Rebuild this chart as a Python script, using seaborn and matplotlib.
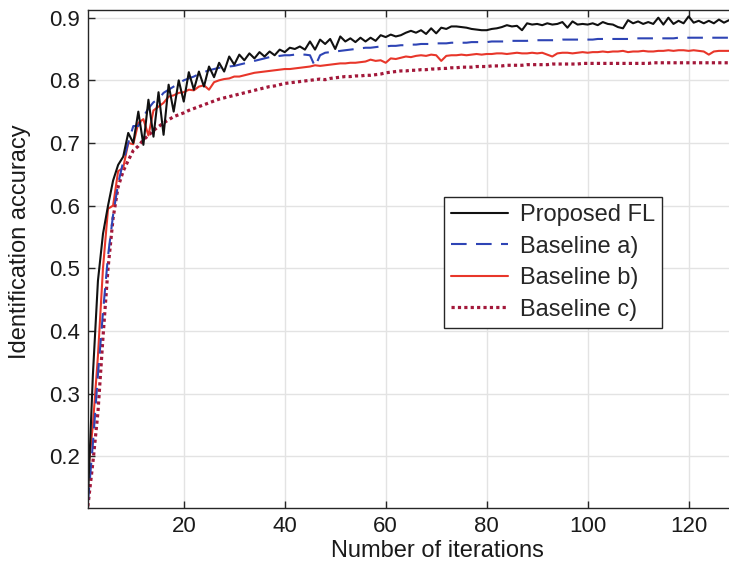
import numpy as np
import pandas as pd
import matplotlib
matplotlib.use("Agg")
import matplotlib.pyplot as plt
import seaborn as sns

iterations = list(range(1, 129))

proposed_fl = [
    0.130, 0.330, 0.480, 0.555, 0.600, 0.640, 0.665, 0.678, 0.716, 0.700,
    0.750, 0.697, 0.769, 0.710, 0.781, 0.713, 0.793, 0.750, 0.800, 0.766,
    0.813, 0.785, 0.814, 0.790, 0.822, 0.805, 0.828, 0.814, 0.838, 0.825,
    0.841, 0.832, 0.843, 0.835, 0.845, 0.838, 0.846, 0.840, 0.849, 0.845,
    0.852, 0.850, 0.854, 0.849, 0.862, 0.849, 0.865, 0.858, 0.866, 0.850,
    0.870, 0.862, 0.867, 0.861, 0.868, 0.862, 0.868, 0.863, 0.872, 0.869,
    0.873, 0.870, 0.872, 0.876, 0.879, 0.876, 0.880, 0.874, 0.883, 0.875,
    0.884, 0.882, 0.886, 0.886, 0.885, 0.884, 0.882, 0.881, 0.880, 0.880,
    0.882, 0.883, 0.885, 0.888, 0.886, 0.887, 0.880, 0.891, 0.889, 0.890,
    0.888, 0.891, 0.889, 0.890, 0.893, 0.884, 0.894, 0.889, 0.890, 0.889,
    0.891, 0.888, 0.893, 0.890, 0.889, 0.885, 0.883, 0.896, 0.891, 0.894,
    0.890, 0.893, 0.890, 0.900, 0.889, 0.900, 0.890, 0.895, 0.891, 0.902,
    0.892, 0.895, 0.891, 0.895, 0.891, 0.897, 0.892, 0.896,
]

baseline_a = [
    0.125, 0.220, 0.330, 0.430, 0.520, 0.585, 0.635, 0.670, 0.700, 0.727,
    0.727, 0.742, 0.755, 0.765, 0.770, 0.780, 0.785, 0.790, 0.795, 0.800,
    0.803, 0.806, 0.810, 0.813, 0.816, 0.818, 0.820, 0.821, 0.822, 0.823,
    0.825, 0.827, 0.829, 0.831, 0.833, 0.835, 0.837, 0.838, 0.839, 0.840,
    0.840, 0.841, 0.841, 0.841, 0.840, 0.822, 0.840, 0.844, 0.845, 0.846,
    0.847, 0.848, 0.849, 0.850, 0.851, 0.852, 0.852, 0.853, 0.854, 0.854,
    0.855, 0.855, 0.856, 0.856, 0.857, 0.857, 0.858, 0.858, 0.858, 0.859,
    0.859, 0.859, 0.860, 0.860, 0.860, 0.860, 0.861, 0.861, 0.861, 0.861,
    0.862, 0.862, 0.862, 0.862, 0.863, 0.863, 0.863, 0.863, 0.864, 0.864,
    0.864, 0.864, 0.864, 0.864, 0.865, 0.865, 0.865, 0.865, 0.865, 0.865,
    0.865, 0.866, 0.866, 0.866, 0.866, 0.866, 0.866, 0.866, 0.867, 0.867,
    0.867, 0.867, 0.867, 0.867, 0.867, 0.867, 0.867, 0.868, 0.868, 0.868,
    0.868, 0.868, 0.868, 0.868, 0.868, 0.868, 0.868, 0.868,
]

baseline_b = [
    0.170, 0.250, 0.360, 0.500, 0.595, 0.600, 0.655, 0.660, 0.700, 0.698,
    0.732, 0.738, 0.712, 0.752, 0.758, 0.764, 0.774, 0.776, 0.780, 0.781,
    0.785, 0.784, 0.790, 0.792, 0.785, 0.797, 0.800, 0.802, 0.803, 0.806,
    0.806, 0.808, 0.810, 0.812, 0.813, 0.814, 0.815, 0.816, 0.817, 0.818,
    0.818, 0.819, 0.820, 0.821, 0.822, 0.824, 0.823, 0.824, 0.825, 0.826,
    0.827, 0.827, 0.828, 0.828, 0.829, 0.830, 0.833, 0.831, 0.832, 0.828,
    0.835, 0.834, 0.836, 0.838, 0.837, 0.839, 0.840, 0.839, 0.841, 0.840,
    0.831, 0.839, 0.840, 0.840, 0.841, 0.840, 0.841, 0.842, 0.841, 0.842,
    0.842, 0.843, 0.843, 0.842, 0.843, 0.844, 0.843, 0.843, 0.844, 0.843,
    0.844, 0.841, 0.838, 0.843, 0.844, 0.844, 0.843, 0.844, 0.845, 0.844,
    0.845, 0.845, 0.846, 0.845, 0.846, 0.846, 0.847, 0.845, 0.846, 0.846,
    0.847, 0.846, 0.846, 0.847, 0.847, 0.848, 0.847, 0.848, 0.848, 0.847,
    0.848, 0.847, 0.846, 0.841, 0.846, 0.847, 0.847, 0.847,
]

baseline_c = [
    0.120, 0.190, 0.270, 0.390, 0.500, 0.580, 0.630, 0.655, 0.672, 0.688,
    0.695, 0.705, 0.712, 0.720, 0.726, 0.732, 0.737, 0.742, 0.745, 0.748,
    0.752, 0.755, 0.758, 0.761, 0.764, 0.767, 0.770, 0.772, 0.774, 0.776,
    0.778, 0.780, 0.782, 0.784, 0.786, 0.788, 0.790, 0.791, 0.793, 0.795,
    0.796, 0.797, 0.798, 0.799, 0.800, 0.801, 0.802, 0.801, 0.803, 0.804,
    0.805, 0.806, 0.806, 0.807, 0.807, 0.808, 0.808, 0.809, 0.810, 0.812,
    0.813, 0.814, 0.815, 0.815, 0.816, 0.816, 0.817, 0.817, 0.818, 0.818,
    0.819, 0.819, 0.820, 0.820, 0.821, 0.821, 0.821, 0.822, 0.822, 0.822,
    0.823, 0.823, 0.823, 0.824, 0.824, 0.824, 0.824, 0.825, 0.825, 0.825,
    0.825, 0.825, 0.826, 0.826, 0.826, 0.826, 0.826, 0.826, 0.827, 0.827,
    0.827, 0.827, 0.827, 0.827, 0.827, 0.827, 0.827, 0.827, 0.827, 0.827,
    0.827, 0.827, 0.828, 0.828, 0.828, 0.828, 0.828, 0.828, 0.828, 0.828,
    0.828, 0.828, 0.828, 0.828, 0.828, 0.828, 0.828, 0.828,
]

series_names = ["Proposed FL", "Baseline a)", "Baseline b)", "Baseline c)"]
x_ticks = [20, 40, 60, 80, 100, 120]
y_ticks = [0.2, 0.3, 0.4, 0.5, 0.6, 0.7, 0.8, 0.9]

sns.set_theme(style="whitegrid")
plt.rcParams["font.family"] = ["Liberation Sans", "DejaVu Sans"]

fig = plt.figure(figsize=(7.29, 5.64), dpi=100)
ax = fig.add_axes([0.1205, 0.099, 0.8795, 0.883])

styles = {
    "Proposed FL": dict(color="#111111", linestyle="-", linewidth=1.5),
    "Baseline a)": dict(color="#2e44b5", linestyle=(0, (7.5, 4.5)), linewidth=1.5),
    "Baseline b)": dict(color="#e8362a", linestyle="-", linewidth=1.5),
    "Baseline c)": dict(color="#a3183a", linestyle=(0, (1, 1)), linewidth=2.3),
}
data = {
    "Proposed FL": proposed_fl,
    "Baseline a)": baseline_a,
    "Baseline b)": baseline_b,
    "Baseline c)": baseline_c,
}
draw_order = ["Baseline c)", "Baseline b)", "Baseline a)", "Proposed FL"]
for name in draw_order:
    df = pd.DataFrame({"iter": iterations, "acc": data[name]})
    st = styles[name]
    sns.lineplot(data=df, x="iter", y="acc", ax=ax, color=st["color"],
                 linewidth=st["linewidth"], label=name, legend=False)
    ax.lines[-1].set_linestyle(st["linestyle"])

ax.set_xlim(1, 128)
ax.set_ylim(0.117, 0.912)
ax.set_xticks(x_ticks)
ax.set_xticklabels([str(t) for t in x_ticks])
ax.set_yticks(y_ticks)
ax.set_yticklabels([f"{t:.1f}" for t in y_ticks])

ax.grid(True, color="#e3e3e3", linewidth=1.0)
ax.set_facecolor("white")
for side in ["left", "bottom", "top"]:
    ax.spines[side].set_visible(True)
    ax.spines[side].set_color("#262626")
    ax.spines[side].set_linewidth(1.0)
ax.spines["right"].set_visible(False)

ax.tick_params(axis="both", which="both", direction="in", length=5, width=1.0,
               color="#262626", labelsize=16, labelcolor="#1a1a1a",
               top=True, bottom=True, left=True, right=False, pad=6)

ax.set_xlabel("Number of iterations", fontsize=17, color="#1a1a1a")
ax.set_ylabel("Identification accuracy", fontsize=17, color="#1a1a1a")
ax.xaxis.set_label_coords(0.545, -0.064)
ax.yaxis.set_label_coords(-0.088, 0.536)

handles = {l.get_label(): l for l in ax.lines}
leg = ax.legend([handles[n] for n in series_names], series_names,
                loc="upper left", bbox_to_anchor=(0.556, 0.6245),
                fontsize=17, frameon=True, fancybox=False, framealpha=1,
                edgecolor="#262626", handlelength=2.4, handletextpad=0.5,
                borderpad=0.3, labelspacing=0.4, borderaxespad=0)
leg.get_frame().set_linewidth(1.0)

fig.savefig("out.png", dpi=100)
